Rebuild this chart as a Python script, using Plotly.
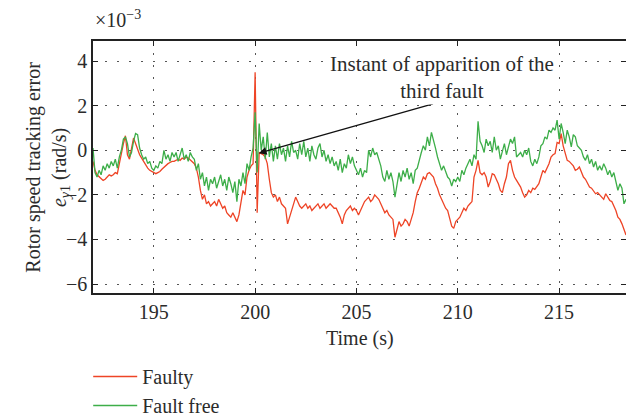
import numpy as np
import plotly.graph_objects as go

# time grid 192.0 .. 218.3 s, 0.1 s step
time_s = np.round(np.arange(192.0, 218.31, 0.1), 1)

# Faulty, rotor speed tracking error (x1e-3 rad/s)
faulty = [
    -0.5, -0.9, -1.1, -1.2, -1.3, -1.35, -1.3, -1.2, -1.1, -1.15,   # 192
    -1.1, -1.0, -1.05, -0.6, -0.1, 0.3, 0.65, -0.2, -0.4, 0.1,      # 193
    0.55, 0.3, 0.0, -0.2, -0.35, -0.5, -0.7, -0.8, -0.9, -0.95,     # 194
    -1.0, -1.05, -1.0, -0.95, -0.85, -0.75, -0.7, -0.6, -0.55, -0.5,# 195
    -0.5, -0.45, -0.4, -0.45, -0.35, -0.4, -0.3, -0.35, -0.45, -0.5,# 196
    -0.6, -0.8, -1.2, -1.8, -2.2, -2.0, -2.4, -2.3, -2.5, -2.4,     # 197
    -2.3, -2.5, -2.2, -2.4, -2.6, -2.5, -2.8, -2.9, -3.0, -2.8,     # 198
    -3.0, -3.2, -2.9, -2.3, -1.8, -2.0, -1.2, -0.9, -0.7, -0.6,     # 199
    3.5, -2.8, -0.1, -0.15, -0.2, -0.3, -0.6, -1.3, -1.9, -2.1,     # 200
    -2.0, -2.3, -2.1, -2.4, -2.5, -2.6, -3.3, -3.0, -2.7, -2.4,     # 201
    -2.1, -2.3, -2.5, -2.6, -2.5, -2.4, -2.6, -2.5, -2.7, -2.6,     # 202
    -2.5, -2.4, -2.6, -2.5, -2.4, -2.6, -2.5, -2.4, -2.5, -2.6,     # 203
    -2.6, -2.8, -3.0, -3.3, -2.9, -2.7, -2.6, -2.5, -2.7, -2.6,     # 204
    -2.7, -2.9, -2.7, -2.5, -2.3, -2.2, -2.1, -2.3, -2.2, -2.0,     # 205
    -2.1, -2.2, -2.4, -2.6, -2.8, -2.7, -2.9, -3.0, -3.1, -3.9,     # 206
    -3.5, -3.2, -3.4, -3.3, -3.1, -3.2, -3.4, -3.1, -2.8, -2.3,     # 207
    -1.9, -1.7, -1.4, -1.2, -1.3, -1.05, -1.0, -1.1, -1.2, -1.5,    # 208
    -1.7, -2.0, -2.2, -2.4, -2.6, -2.7, -3.0, -3.4, -3.5, -3.2,     # 209
    -3.1, -3.0, -2.8, -2.6, -2.7, -2.5, -2.4, -2.3, -1.2, -0.9,     # 210
    -0.45, -1.0, -1.1, -1.0, -1.2, -1.65, -1.4, -1.05, -1.1, -1.3,  # 211
    -1.5, -1.8, -1.9, -1.5, -1.2, -0.6, -0.45, -0.9, -1.2, -1.35,   # 212
    -1.5, -1.65, -1.9, -2.1, -2.0, -1.8, -1.9, -1.7, -1.75, -1.6,   # 213
    -1.5, -1.2, -0.9, -1.0, -0.8, -0.6, -0.3, -0.2, -0.15, 0.35,    # 214
    0.3, 0.75, 0.2, -0.15, -0.45, -0.5, -0.6, -0.7, -0.9, -0.85,    # 215
    -0.75, -1.0, -1.2, -1.3, -1.5, -1.65, -1.7, -1.8, -1.95, -1.9,  # 216
    -2.0, -2.1, -2.2, -1.95, -2.1, -2.25, -2.3, -2.5, -2.7, -3.0,   # 217
    -3.1, -3.3, -3.6, -3.8,                                         # 218
]

# Fault free
fault_free = [
    0.1, -1.0, -1.2, -0.9, -1.1, -0.7, -0.9, -0.6, -0.8, -0.5,      # 192
    -0.7, -0.4, -0.8, -0.3, 0.0, 0.5, 0.6, 0.3, -0.3, -0.1,         # 193
    0.4, 0.75, 0.7, 0.1, -0.2, -0.4, -0.3, -0.6, -0.5, -0.8,        # 194
    -0.9, -0.7, -0.8, -0.5, -0.6, 0.0, -0.4, -0.2, -0.5, -0.1,      # 195
    -0.3, -0.1, -0.5, -0.2, 0.1, -0.4, -0.2, -0.5, -0.1, -0.3,      # 196
    -0.4, -0.9, -0.6, -1.3, -1.0, -1.6, -1.2, -1.8, -1.3, -1.5,     # 197
    -1.2, -1.7, -1.4, -1.1, -1.6, -1.3, -1.8, -1.2, -1.5, -1.9,     # 198
    -1.4, -2.3, -1.3, -1.6, -1.0, -1.5, -0.6, -0.9, -0.3, 0.1,      # 199
    1.7, -1.0, 1.2, 0.0, 0.6, -0.4, 0.8, -0.3, 0.3, -0.5,           # 200
    0.2, -0.4, 0.3, -0.2, 0.1, -0.5, 0.2, -0.3, 0.4, -0.1,          # 201
    0.0, -0.4, 0.3, -0.2, 0.4, -0.3, 0.1, -0.5, 0.2, -0.2,          # 202
    -0.4, 0.1, 0.3, -0.3, 0.0, -0.5, -0.2, -0.6, -0.3, -0.7,        # 203
    -0.5, -0.9, -0.4, -1.0, -0.6, -0.8, -0.2, -0.6, -0.3, -0.7,     # 204
    -0.9, -1.1, -0.8, -1.2, -0.9, -1.0, 0.0, -0.3, 0.1, -0.2,       # 205
    -0.1, -0.4, -0.7, -1.2, -1.4, -0.9, -1.3, -1.0, -1.4, -2.1,     # 206
    -1.5, -1.0, -1.4, -0.9, -1.2, -0.8, -1.3, -1.0, -1.5, -0.9,     # 207
    -0.8, -0.4, -0.1, 0.2, 0.0, 0.6, 0.2, 0.8, 0.5, 0.1,            # 208
    -0.3, -0.6, -0.9, -0.7, -1.0, -1.2, -1.3, -1.6, -1.3, -1.4,     # 209
    -1.2, -1.4, -0.9, -1.1, -0.8, -0.6, -0.4, -0.7, -0.2, -0.4,     # 210
    1.3, 0.4, 0.2, -0.1, 0.5, 0.2, 0.4, -0.1, 0.6, 0.0,             # 211
    0.2, -0.4, -0.1, 0.3, -0.2, 0.2, 0.5, 0.3, 0.6, -0.3,           # 212
    -0.2, -0.1, -0.3, 0.0, -0.2, 0.1, -0.5, -0.7, -0.4, -0.6,       # 213
    -0.3, 0.2, 0.3, 0.6, 0.5, 0.9, 0.8, 1.0, 0.9, 1.35,             # 214
    0.5, 1.2, 0.8, 0.3, 0.9, 0.6, 0.15, 0.7, 0.6, 0.2,              # 215
    0.1, 0.0, -0.3, -0.45, -0.2, -0.6, -0.4, -0.75, -0.5, -0.9,     # 216
    -0.7, -0.9, -0.6, -0.8, -1.1, -0.9, -1.2, -1.0, -1.4, -1.8,     # 217
    -1.5, -1.7, -2.4, -2.2,                                         # 218
]

x_ticks = [195, 200, 205, 210, 215]
y_ticks = [-6, -4, -2, 0, 2, 4]

FONT = "Liberation Serif"
FS = 20
TXT = "#2b2b2b"
RED = "#EE4426"
GREEN = "#3DAE49"

fig = go.Figure()
fig.add_trace(go.Scatter(x=time_s, y=faulty, mode="lines", name="Faulty",
                         line=dict(color=RED, width=1.3)))
fig.add_trace(go.Scatter(x=time_s, y=fault_free, mode="lines", name="Fault free",
                         line=dict(color=GREEN, width=1.3)))

axis_common = dict(
    showline=True, linecolor="#222", linewidth=1.6, mirror="ticks",
    ticks="inside", ticklen=5, tickcolor="#222", tickwidth=1,
    showgrid=True, gridcolor="#555", griddash="2px,10px", gridwidth=1,
    zeroline=False, tickfont=dict(family=FONT, size=FS, color=TXT),
)

fig.update_layout(
    width=626, height=417,
    margin=dict(l=93, r=0, t=41, b=124, autoexpand=False),
    plot_bgcolor="white", paper_bgcolor="white",
    font=dict(family=FONT, size=FS, color=TXT),
    xaxis=dict(range=[192, 218.3], tickvals=x_ticks, **axis_common),
    yaxis=dict(range=[-6.4, 4.9], tickvals=y_ticks, **axis_common),
    showlegend=True,
    legend=dict(x=-0.009, y=-0.254, xanchor="left", yanchor="top",
                bgcolor="rgba(0,0,0,0)", font=dict(family=FONT, size=FS, color=TXT),
                itemwidth=44, tracegroupgap=0),
)

# x-axis title
fig.add_annotation(text="Time (s)", xref="paper", yref="paper", x=0.5, y=-0.125,
                   showarrow=False, font=dict(family=FONT, size=FS, color=TXT),
                   xanchor="center", yanchor="top")
# y-axis title (two lines)
fig.add_annotation(text="Rotor speed tracking error<br><i>e</i><sub><i>y</i>1</sub> (rad/s)",
                   xref="paper", yref="paper", x=-0.087, y=0.5, textangle=-90,
                   showarrow=False, font=dict(family=FONT, size=FS, color=TXT),
                   xanchor="center", yanchor="middle")
# exponent
fig.add_annotation(text="×10<sup>−3</sup>", xref="paper", yref="paper", x=0.0, y=1.03,
                   showarrow=False, font=dict(family=FONT, size=FS, color=TXT),
                   xanchor="left", yanchor="bottom")
# arrow
fig.add_annotation(x=200.18, y=-0.13, ax=208.85, ay=2.1, xref="x", yref="y",
                   axref="x", ayref="y", text="", showarrow=True,
                   arrowhead=2, arrowsize=1.2, arrowwidth=1.3, arrowcolor="#111")
# annotation text
fig.add_annotation(text="Instant of apparition of the<br>third fault", x=209.2, y=3.27,
                   xref="x", yref="y", showarrow=False, bgcolor="white",
                   font=dict(family=FONT, size=21, color=TXT), align="center")

fig.write_html("out.html")
